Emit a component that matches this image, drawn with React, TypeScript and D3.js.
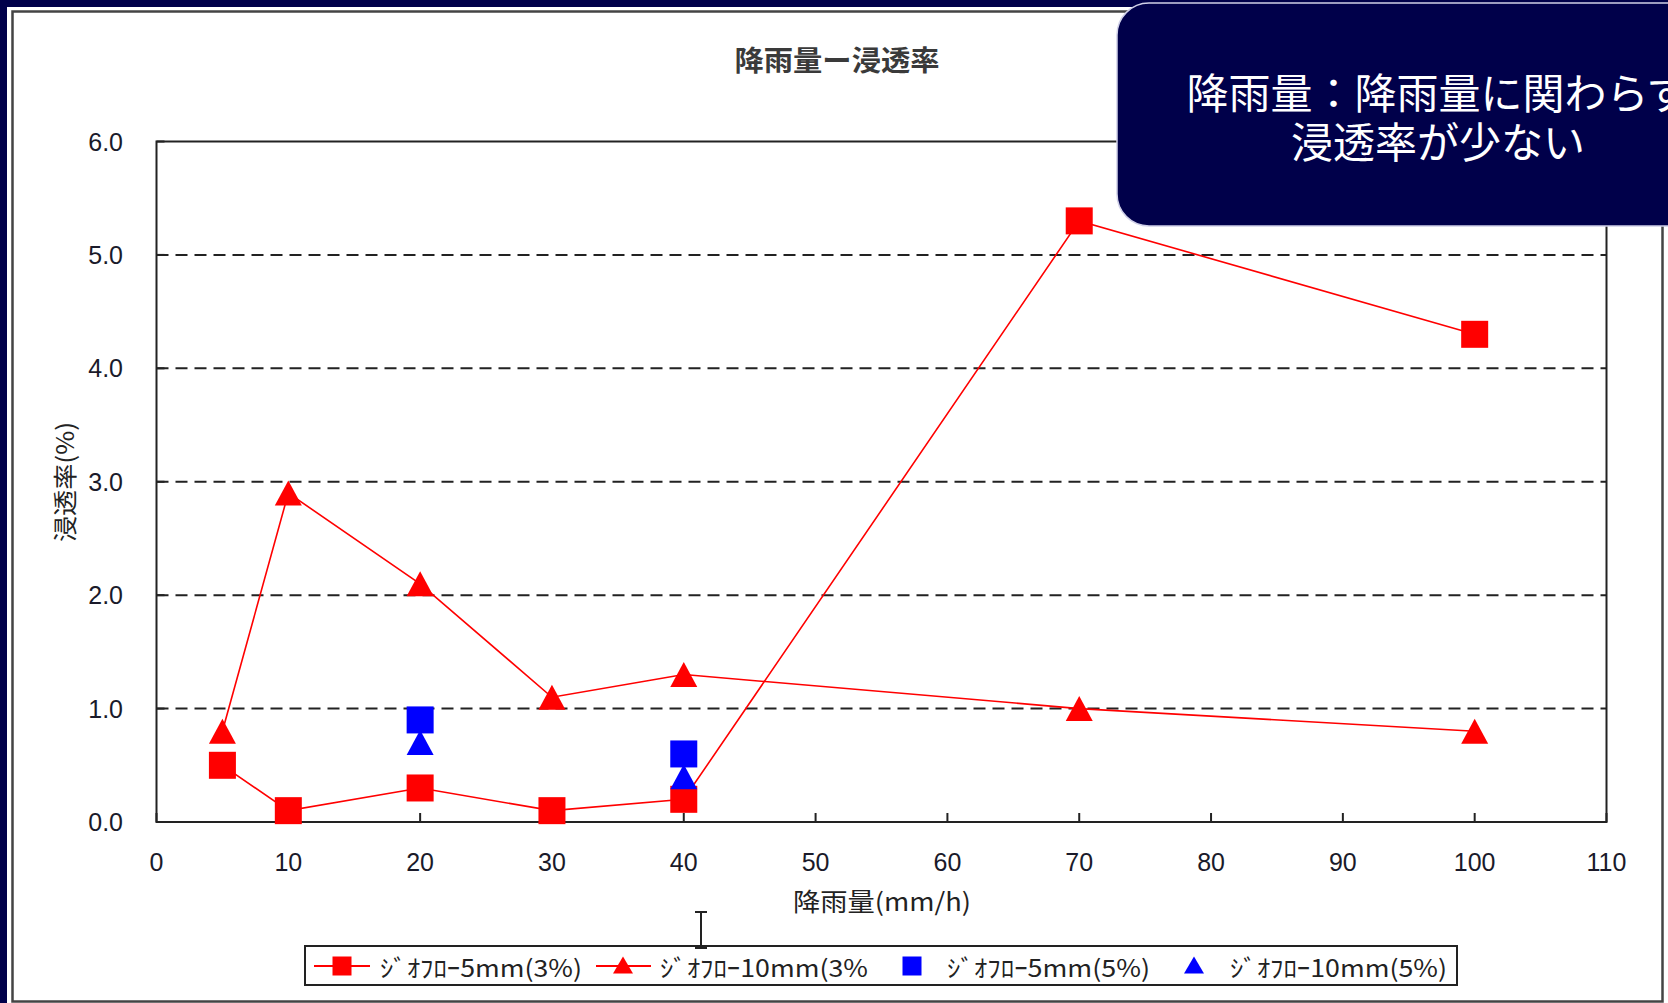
import React from "react";
import * as d3 from "d3";

// ---- data ----
const rainfall = [5, 10, 20, 30, 40, 70, 100];
const geo5mm3 = [0.5, 0.1, 0.3, 0.1, 0.2, 5.3, 4.3];
const geo10mm3 = [0.8, 2.9, 2.1, 1.1, 1.3, 1.0, 0.8];
const rainfall5 = [20, 40];
const geo5mm5 = [0.9, 0.6];
const geo10mm5 = [0.7, 0.4];
const xTicks = [0, 10, 20, 30, 40, 50, 60, 70, 80, 90, 100, 110];
const yTicks = [0, 1, 2, 3, 4, 5, 6];
const legendLabels = ["ｼﾞｵﾌﾛｰ5mm(3%)", "ｼﾞｵﾌﾛｰ10mm(3%", "ｼﾞｵﾌﾛｰ5mm(5%)", "ｼﾞｵﾌﾛｰ10mm(5%)"];
const title = "降雨量ー浸透率";
const xLabel = "降雨量(mm/h)";
const yLabel = "浸透率(%)";
const calloutLines = ["降雨量：降雨量に関わらず", "浸透率が少ない"];

const W = 1668;
const H = 1003;
const JP = "'Noto Sans CJK JP', 'Noto Sans', sans-serif";
const LAT = "'Liberation Sans', Arial, sans-serif";
const NAVY = "#00004a";
const RED = "#ff0000";
const BLUE = "#0000ff";

const tri = (cx: number, cy: number, w: number, h: number) =>
  `M${cx},${cy - h / 2}L${cx + w / 2},${cy + h / 2}L${cx - w / 2},${cy + h / 2}Z`;

export default function App() {
  const x = d3.scaleLinear().domain([0, 110]).range([156.5, 1606.5]);
  const y = d3.scaleLinear().domain([0, 6]).range([822, 141.5]);
  const line = d3
    .line<[number, number]>()
    .x((d) => x(d[0]))
    .y((d) => y(d[1]));
  const s1 = rainfall.map((r, i) => [r, geo5mm3[i]] as [number, number]);
  const s2 = rainfall.map((r, i) => [r, geo10mm3[i]] as [number, number]);
  const sq = 27;
  const tw = 27;
  const th = 25;

  const legY = 966;
  const legItems = [
    { lx0: 314, lx1: 370, mx: 342, tx: 380, tl: 202, kind: "sq", color: RED, line: true },
    { lx0: 596, lx1: 651, mx: 623, tx: 660, tl: 208, kind: "tri", color: RED, line: true },
    { lx0: 0, lx1: 0, mx: 912, tx: 947, tl: 203, kind: "sq", color: BLUE, line: false },
    { lx0: 0, lx1: 0, mx: 1194, tx: 1230, tl: 217, kind: "tri", color: BLUE, line: false },
  ];

  return (
    <svg
      width={W}
      height={H}
      style={{ position: "absolute", left: 0, top: 0, display: "block" }}
      xmlns="http://www.w3.org/2000/svg"
    >
      <rect x={0} y={0} width={W} height={H} fill="#ffffff" />
      <rect x={0} y={0} width={W} height={7} fill={NAVY} />
      <rect x={0} y={0} width={7} height={H} fill={NAVY} />
      <rect x={12.5} y={11.5} width={1650} height={1490 - 500} fill="none" stroke="#444" strokeWidth={2.5} />

      {/* title */}
      <text x={837} y={71} textAnchor="middle" fontFamily={JP} fontSize={28} fontWeight="bold" fill="#3a3a3a" textLength={205} lengthAdjust="spacingAndGlyphs">
        {title}
      </text>

      {/* gridlines */}
      {yTicks
        .filter((t) => t > 0 && t < 6)
        .map((t) => (
          <line key={"g" + t} x1={x(0)} x2={x(110)} y1={y(t)} y2={y(t)} stroke="#222" strokeWidth={2} strokeDasharray="12,7" />
        ))}

      {/* plot box */}
      <rect x={x(0)} y={y(6)} width={x(110) - x(0)} height={y(0) - y(6)} fill="none" stroke="#222" strokeWidth={2} />

      {/* x ticks */}
      {xTicks.map((t) => (
        <g key={"x" + t}>
          <line x1={x(t)} x2={x(t)} y1={y(0)} y2={y(0) - 9} stroke="#222" strokeWidth={2} />
          <text x={x(t)} y={871} textAnchor="middle" fontFamily={LAT} fontSize={25} fill="#1a1a2a">
            {String(t)}
          </text>
        </g>
      ))}
      {/* y ticks */}
      {yTicks.map((t) => (
        <g key={"y" + t}>
          <line x1={x(0)} x2={x(0) + 8} y1={y(t)} y2={y(t)} stroke="#222" strokeWidth={2} />
          <text x={123} y={y(t) + 9} textAnchor="end" fontFamily={LAT} fontSize={25} fill="#1a1a2a">
            {d3.format(".1f")(t)}
          </text>
        </g>
      ))}

      {/* axis labels */}
      <text x={882} y={911} textAnchor="middle" fontFamily={JP} fontSize={25} fill="#222" textLength={178} lengthAdjust="spacingAndGlyphs">
        {xLabel}
      </text>
      <text
        transform={`translate(74,482) rotate(-90)`}
        textAnchor="middle"
        fontFamily={JP}
        fontSize={24}
        fill="#222"
        textLength={120}
        lengthAdjust="spacingAndGlyphs"
      >
        {yLabel}
      </text>

      {/* series lines */}
      <path d={line(s1) || ""} fill="none" stroke={RED} strokeWidth={1.6} />
      <path d={line(s2) || ""} fill="none" stroke={RED} strokeWidth={1.6} />

      {/* markers */}
      {s1.map((d, i) => (
        <rect key={"m1" + i} x={x(d[0]) - sq / 2} y={y(d[1]) - sq / 2} width={sq} height={sq} fill={RED} />
      ))}
      {s2.map((d, i) => (
        <path key={"m2" + i} d={tri(x(d[0]), y(d[1]), tw, th)} fill={RED} />
      ))}
      {rainfall5.map((r, i) => (
        <rect key={"m3" + i} x={x(r) - sq / 2} y={y(geo5mm5[i]) - sq / 2} width={sq} height={sq} fill={BLUE} />
      ))}
      {rainfall5.map((r, i) => (
        <path key={"m4" + i} d={tri(x(r), y(geo10mm5[i]), tw, th)} fill={BLUE} />
      ))}

      {/* legend */}
      <rect x={305} y={946} width={1152} height={39} fill="#fff" stroke="#222" strokeWidth={2} />
      {legItems.map((it, i) => (
        <g key={"l" + i}>
          {it.line && <line x1={it.lx0} x2={it.lx1} y1={legY} y2={legY} stroke={RED} strokeWidth={2} />}
          {it.kind === "sq" ? (
            <rect x={it.mx - 9.5} y={legY - 9.5} width={19} height={19} fill={it.color} />
          ) : (
            <path d={tri(it.mx, legY - 1, 20, 17)} fill={it.color} />
          )}
          <text x={it.tx} y={legY} dominantBaseline="central" fontFamily={JP} fontSize={24} fill="#222" textLength={it.tl} lengthAdjust="spacingAndGlyphs">
            {legendLabels[i]}
          </text>
        </g>
      ))}

      {/* text cursor artifact */}
      <path d="M695,912H707M701,912V948M695,948H707" fill="none" stroke="#222" strokeWidth={2} />

      {/* callout */}
      <rect x={1117} y={3} width={700} height={223} rx={32} ry={32} fill={NAVY} stroke="#d0d0e8" strokeWidth={1.5} />
      {calloutLines.map((t, i) => (
        <text key={"c" + i} x={1438} y={109 + i * 49} textAnchor="middle" fontFamily={JP} fontSize={42} fill="#ffffff">
          {t}
        </text>
      ))}
    </svg>
  );
}
